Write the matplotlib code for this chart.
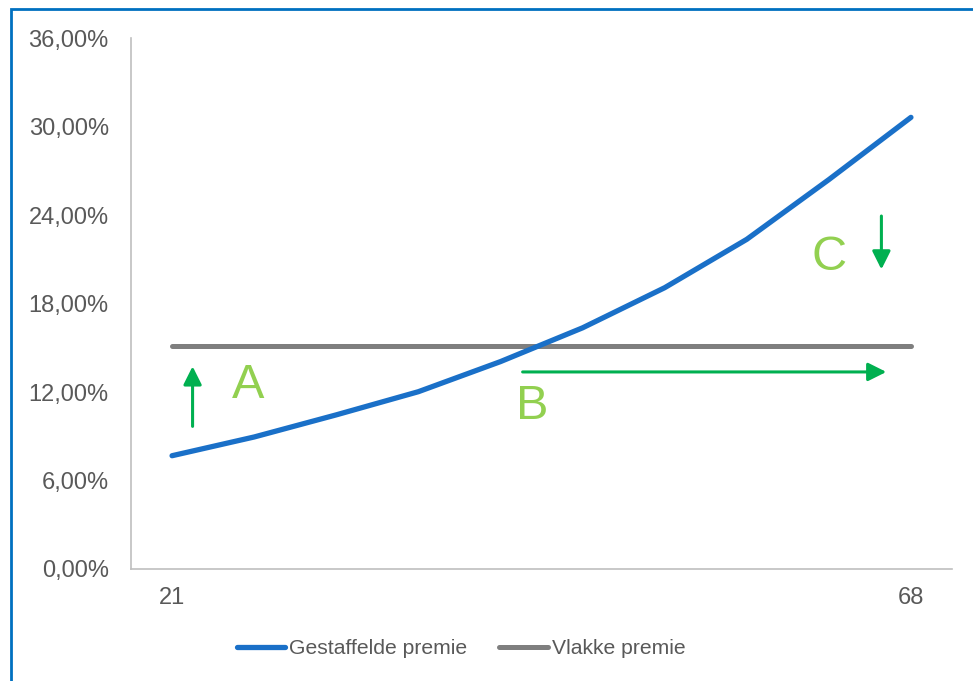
from matplotlib import pyplot as plt
from matplotlib.patches import Rectangle
from matplotlib.ticker import FuncFormatter
import numpy as np

# ages (only first and last are labelled on the axis)
ages = ['21', '', '', '', '', '', '', '', '', '68']
gestaffeld = [7.68, 8.95, 10.45, 12.02, 14.06, 16.35, 19.07, 22.35, 26.4, 30.62]
vlak = [15.1] * len(ages)

blue = '#1A70C8'
grey = '#7F7F7F'
green = '#00B050'
light_green = '#92D050'
text_grey = '#595959'

plt.rcParams['font.family'] = ['Liberation Sans', 'DejaVu Sans']

fig = plt.figure(figsize=(9.73, 6.81), dpi=100)
ax = fig.add_axes([131 / 973, 1 - 569 / 681, 821 / 973, 531 / 681])

x = np.arange(len(ages))
ax.plot(x, gestaffeld, color=blue, lw=3.8, solid_capstyle='round',
        solid_joinstyle='round', label='Gestaffelde premie', zorder=3)
ax.plot(x, vlak, color=grey, lw=3.6, solid_capstyle='round',
        label='Vlakke premie', zorder=2)

ax.set_xlim(-0.5, len(ages) - 0.5)
ax.set_ylim(0, 36)
ax.set_yticks(np.arange(0, 37, 6))
ax.yaxis.set_major_formatter(FuncFormatter(lambda v, p: f'{v:.2f}%'.replace('.', ',')))
ax.set_xticks(x)
ax.set_xticklabels(ages)
ax.tick_params(axis='both', length=0, labelsize=17, labelcolor=text_grey)
ax.tick_params(axis='y', pad=16)
ax.tick_params(axis='x', pad=13)

for s in ['top', 'right']:
    ax.spines[s].set_visible(False)
for s in ['left', 'bottom']:
    ax.spines[s].set_color('#BFBFBF')
    ax.spines[s].set_linewidth(1.2)

# annotations A, B, C
arrow = dict(arrowstyle='-|>,head_length=1.1,head_width=0.55', color=green, lw=2.2,
             shrinkA=0, shrinkB=0)
ax.annotate('', xy=(0.25, 13.74), xytext=(0.25, 9.67), arrowprops=arrow)
ax.annotate('', xy=(8.70, 13.36), xytext=(4.27, 13.36), arrowprops=arrow)
ax.annotate('', xy=(8.64, 20.31), xytext=(8.64, 23.93), arrowprops=arrow)
ax.text(0.93, 12.43, 'A', color=light_green, fontsize=35, ha='center', va='center')
ax.text(4.39, 11.0, 'B', color=light_green, fontsize=35, ha='center', va='center')
ax.text(8.0, 21.13, 'C', color=light_green, fontsize=35, ha='center', va='center')

leg = fig.legend(loc='center', bbox_to_anchor=(461 / 973, 1 - 649 / 681), ncol=2,
                 frameon=False, fontsize=15.2, handlelength=2.3, handletextpad=0.2,
                 columnspacing=1.5)
for t in leg.get_texts():
    t.set_color(text_grey)

# blue frame of the chart area (runs off the right and bottom edge)
fig.patches.append(Rectangle((11 / 973, -0.1), 1.2, 1 - 9 / 681 + 0.1,
                             transform=fig.transFigure, fill=False,
                             edgecolor='#0070C0', lw=2))

fig.savefig('out.png', dpi=100)
